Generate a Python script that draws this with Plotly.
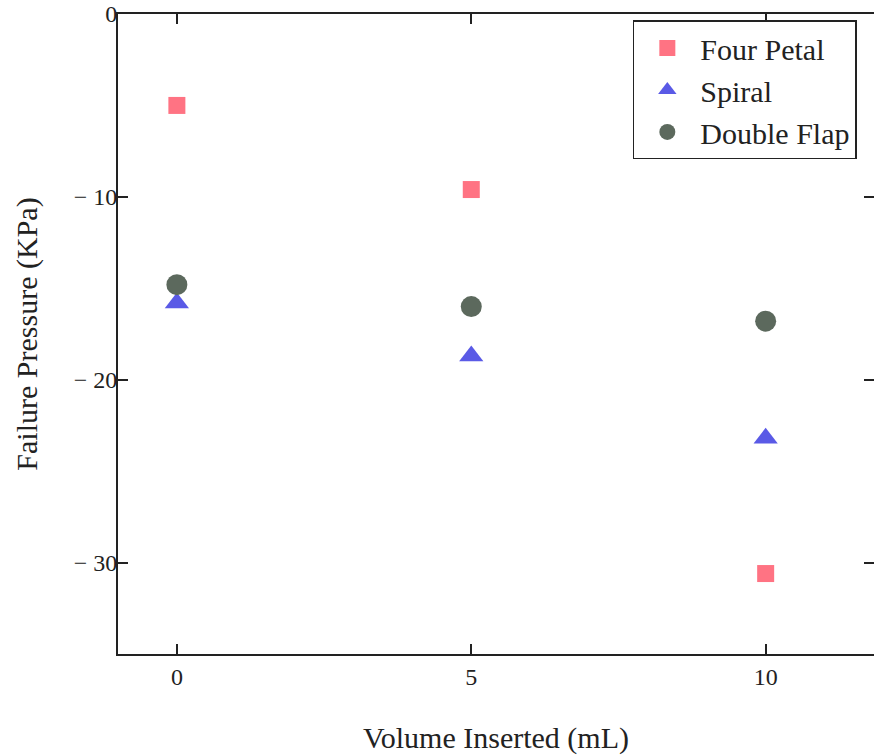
import plotly.graph_objects as go

volume = [0, 5, 10]
four_petal = [-5.0, -9.6, -30.6]
spiral = [-15.8, -18.7, -23.2]
double_flap = [-14.8, -16.0, -16.8]

x_ticks = [0, 5, 10]
x_ticktext = ["0", "5", "10"]
y_ticks = [0, -10, -20, -30]
y_ticktext = ["0", "− 10", "− 20", "− 30"]

FONT = "Liberation Serif"

fig = go.Figure()
fig.add_trace(go.Scatter(x=volume, y=four_petal, mode="markers", name="Four Petal",
                         marker=dict(symbol="square", size=17, color="#FF7383")))
fig.add_trace(go.Scatter(x=volume, y=spiral, mode="markers", name="Spiral",
                         marker=dict(symbol="triangle-up", size=21, color="#5A5AE6")))
fig.add_trace(go.Scatter(x=volume, y=double_flap, mode="markers", name="Double Flap",
                         marker=dict(symbol="circle", size=21, color="#5C695D")))

axis_common = dict(showline=True, linecolor="#222", linewidth=2, mirror="ticks",
                   ticks="inside", ticklen=10, tickwidth=2, tickcolor="#222",
                   showgrid=False, zeroline=False, ticklabeloverflow="allow",
                   automargin=False,
                   tickfont=dict(family=FONT, size=24, color="#222"))

fig.update_xaxes(range=[-1, 11.84], tickvals=x_ticks, ticktext=x_ticktext,
                 title=dict(text="Volume Inserted (mL)", font=dict(family=FONT, size=30, color="#222"),
                            standoff=40),
                 **axis_common)
fig.update_yaxes(range=[-35, 0], tickvals=y_ticks, ticktext=y_ticktext,
                 ticklabelstandoff=-6,
                 title=dict(text="Failure Pressure (KPa)", font=dict(family=FONT, size=30, color="#222"),
                            standoff=27),
                 **axis_common)

fig.update_layout(
    width=874, height=755,
    margin=dict(l=118, r=0, t=14, b=101),
    plot_bgcolor="white", paper_bgcolor="white",
    font=dict(family=FONT, color="#222"),
    legend=dict(x=0.681, y=0.99, xanchor="left", yanchor="top",
                bordercolor="#222", borderwidth=1.5, bgcolor="white",
                font=dict(family=FONT, size=30, color="#222"),
                itemwidth=56, tracegroupgap=0),
    showlegend=True,
)

fig.write_html("out.html",
               config={"displayModeBar": False},
               post_script="document.body.style.margin='0';document.body.style.overflow='hidden';")
